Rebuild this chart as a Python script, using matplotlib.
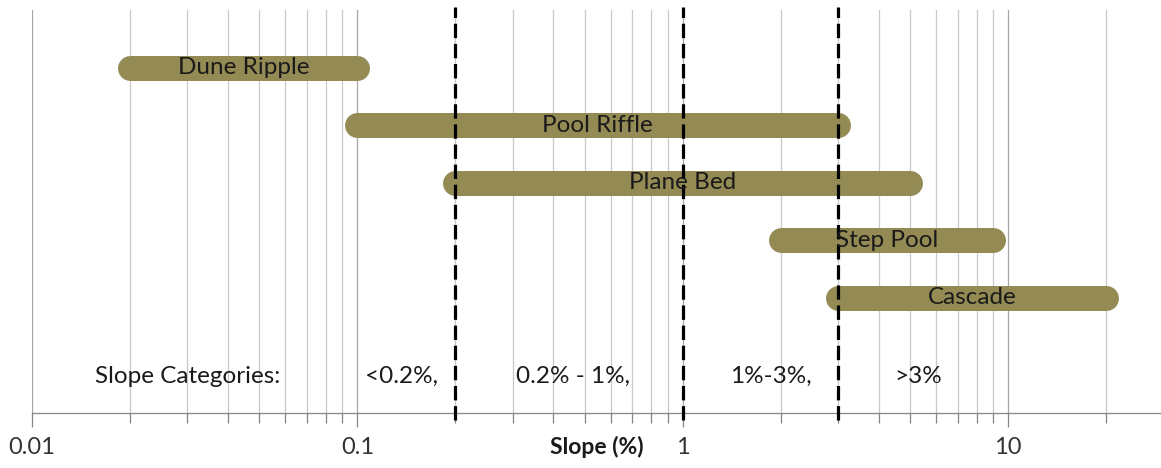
import numpy as np
import matplotlib
matplotlib.use('Agg')
import matplotlib.pyplot as plt
from matplotlib.ticker import FixedLocator, NullFormatter, FixedFormatter

matplotlib.rcParams['font.family'] = ['Lato', 'DejaVu Sans']

# bed form slope ranges (%)
forms = ['Dune Ripple', 'Pool Riffle', 'Plane Bed', 'Step Pool', 'Cascade']
slope_lo = [0.02, 0.1, 0.2, 2, 3]
slope_hi = [0.1, 3, 5, 9, 20]
rows = [6, 5, 4, 3, 2]

# category boundaries (%)
boundaries = [0.2, 1, 3]
cat_labels = ['Slope Categories:', '<0.2%,', '0.2% - 1%,', '1%-3%,', '>3%']
cat_x = [0.03, 0.137, 0.459, 1.87, 5.3]

major_ticks = [0.01, 0.1, 1, 10]
major_labels = ['0.01', '0.1', '1', '10']
minor_ticks = [m * d for d in (0.01, 0.1, 1) for m in range(2, 10)] + [20]

bar_color = '#948A54'
fs = 17.5

fig = plt.figure(figsize=(11.61, 4.68), dpi=100)
ax = fig.add_axes([32/1161, 55/468, 1 - 32/1161, 403/468])

ax.set_xscale('log')
ax.set_xlim(0.01, 29.5)
ax.set_ylim(0, 7)

# gridlines
for x in minor_ticks:
    ax.axvline(x, color='#c8c8c8', lw=0.9, zorder=0)
for x in major_ticks:
    ax.axvline(x, color='#a6a6a6', lw=0.9, zorder=0)

# range bars
for name, lo, hi, y in zip(forms, slope_lo, slope_hi, rows):
    ax.plot([lo, hi], [y, y], color=bar_color, lw=18, solid_capstyle='round', zorder=2)
    ax.text(np.sqrt(lo * hi), y, name, ha='center', va='center', fontsize=fs,
            color='#1a1a1a', zorder=4)

# category boundaries
for b in boundaries:
    ax.plot([b, b], [-0.12, 7.06], color='black', lw=2.3, dashes=(4.5, 1.8),
            clip_on=False, zorder=3)

for lab, x in zip(cat_labels, cat_x):
    ax.text(x, 0.64, lab, ha='center', va='center', fontsize=fs, color='#1a1a1a')

ax.xaxis.set_major_locator(FixedLocator(major_ticks))
ax.xaxis.set_major_formatter(FixedFormatter(major_labels))
ax.xaxis.set_minor_locator(FixedLocator(minor_ticks))
ax.xaxis.set_minor_formatter(NullFormatter())
ax.tick_params(axis='x', which='major', length=10, width=0.9, color='#868686',
               labelsize=17, labelcolor='#333333', pad=7)
ax.tick_params(axis='x', which='minor', length=7, width=0.9, color='#868686')
ax.set_yticks([])

for s in ['top', 'right', 'left']:
    ax.spines[s].set_visible(False)
ax.spines['bottom'].set_color('#868686')
ax.spines['bottom'].set_linewidth(0.9)

ax.text(0.5, -0.084, 'Slope (%)', transform=ax.transAxes, ha='center', va='center',
        fontsize=16.5, fontweight='bold', color='#1a1a1a')

plt.savefig('out.png', dpi=100)
